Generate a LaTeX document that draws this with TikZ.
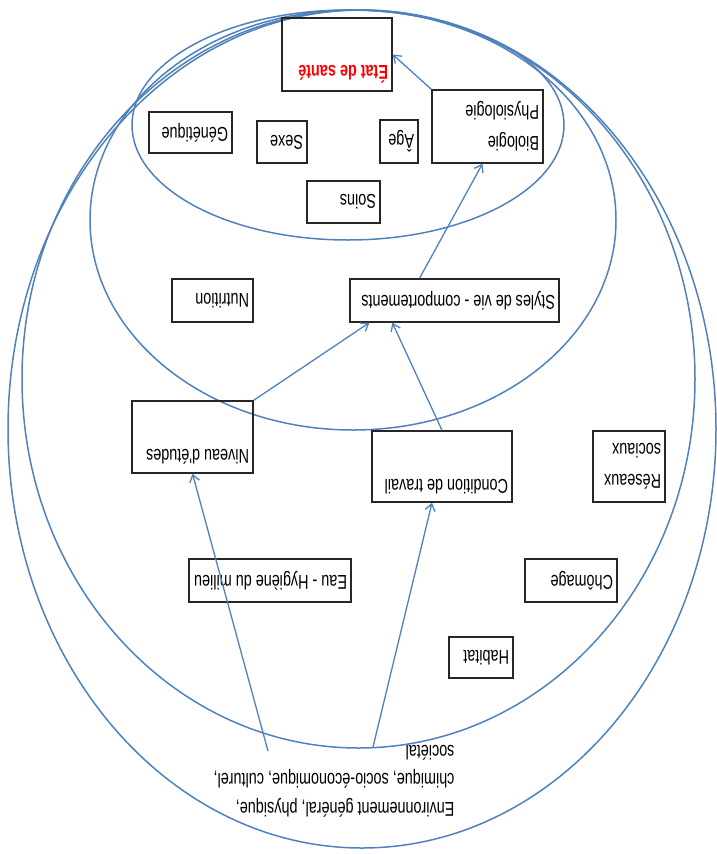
\documentclass[tikz,border=0pt]{standalone}
\usepackage{fontspec}
\setmainfont{Liberation Sans}
\newfontfamily\etroite[FakeStretch=0.72]{Liberation Sans}
\usetikzlibrary{positioning, arrows.meta, calc}
\definecolor{bleuOffice}{RGB}{79,129,189}

\begin{document}
\begin{tikzpicture}[x=1pt, y=-1pt, >={Straight Barb[length=7pt,width=10pt]},
	facteur/.style={draw=black!85, line width=1.4pt, rotate=180, align=flush left, inner xsep=4pt, inner ysep=0pt, font=\etroite\fontsize{20}{31}\selectfont},
	cercle/.style={draw=bleuOffice, line width=1.5pt},
	fleche/.style={->, draw=bleuOffice, line width=1.3pt}]
			\useasboundingbox (0,0) rectangle (717,854);
			
			% --- Ellipses emboitees ---
			\draw[cercle] (348,125) ellipse [x radius=216, y radius=115];
			\draw[cercle] (353,220) ellipse [x radius=263, y radius=210];
			\draw[cercle] (358.5,379) ellipse [x radius=336.5, y radius=369];
			\draw[cercle] (362,429) ellipse [x radius=354, y radius=419];
			
			% --- Facteurs (texte renverse) ---
			\node[facteur, text width=102pt, minimum height=73pt] (etat) at (337,54.5) {\textcolor{red}{\bfseries État de santé}\\\strut};
			\node[facteur, text width=103pt, minimum height=73pt] (bio) at (487.5,126.5) {Biologie\\Physiologie};
			\node[facteur, text width=30pt, minimum height=43pt] (age) at (399,141.5) {Âge};
			\node[facteur, text width=42pt, minimum height=42pt] (sexe) at (282,142) {Sexe};
			\node[facteur, text width=75pt, minimum height=41pt] (genetique) at (190.5,132.5) {Génétique};
			\node[facteur, text width=65pt, minimum height=42pt] (soins) at (343.5,202) {Soins};
			\node[facteur, text width=73pt, minimum height=43pt] (nutrition) at (212.5,300.5) {Nutrition};
			\node[facteur, text width=201pt, minimum height=43pt] (styles) at (454.5,300.5) {Styles de vie - comportements};
			\node[facteur, text width=113pt, minimum height=72pt] (niveau) at (192.5,437) {Niveau d'études\\\strut};
			\node[facteur, text width=132pt, minimum height=71pt] (condition) at (442,466.5) {Condition de travail\\\strut};
			\node[facteur, text width=64pt, minimum height=71pt] (reseaux) at (629,466.5) {Réseaux\\sociaux};
			\node[facteur, text width=84pt, minimum height=43pt] (chomage) at (571,580.5) {Chômage};
			\node[facteur, text width=154pt, minimum height=43pt] (eau) at (270,580.5) {Eau - Hygiène du milieu};
			\node[facteur, text width=56pt, minimum height=41pt] (habitat) at (481,657.5) {Habitat};
			
			% --- Environnement ---
			\node[rotate=180, align=left, inner sep=0pt, font=\etroite\fontsize{20}{28.5}\selectfont] (env) at (334,781) {Environnement général, physique,\\chimique, socio-économique, culturel,\\sociétal};
			\coordinate (envA) at (268,751);
			\coordinate (envB) at (373,747);
			
			% --- Fleches ---
			\draw[fleche] (envA) -- (niveau.north);
			\draw[fleche] (envB) -- ([xshift=-10pt]condition.north);
			\draw[fleche] (niveau.south west) -- ([xshift=20pt]styles.north east);
			\draw[fleche] (condition.south) -- ([xshift=43pt]styles.north east);
			\draw[fleche] ([xshift=-35pt]styles.south) -- ([xshift=-5pt]bio.north);
			\draw[fleche] (bio.south east) -- (etat.west);
		\end{tikzpicture}
\end{document}
